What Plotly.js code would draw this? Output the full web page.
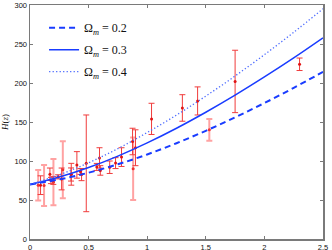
<!DOCTYPE html>
<html><head><meta charset="utf-8">
<script src="https://cdn.plot.ly/plotly-3.0.1.min.js"></script>
<style>html,body{margin:0;padding:0;background:#fff}#c{width:332px;height:250px}</style>
</head><body><div id="c"></div>
<script>
// model curves
const zModel = [0, 0.25, 0.5, 0.75, 1.0, 1.25, 1.5, 1.75, 2.0, 2.25, 2.5];
const H_om02 = [70, 76.4, 85.0, 95.8, 108.4, 122.8, 138.7, 155.9, 174.3, 193.8, 214.3];
const H_om03 = [70, 79.4, 91.6, 106.3, 123.2, 142.0, 162.5, 184.4, 207.7, 232.1, 257.8];
const H_om04 = [70, 82.3, 97.7, 115.9, 136.5, 158.9, 183.2, 209.0, 236.3, 265.0, 295.1];
const legendNames = ['Ω<sub><i>m</i></sub> = 0.2', 'Ω<sub><i>m</i></sub> = 0.3', 'Ω<sub><i>m</i></sub> = 0.4'];

// observational data, darker group
const zDark = [0.09, 0.17, 0.179, 0.199, 0.24, 0.27, 0.35, 0.352, 0.4, 0.43, 0.44, 0.48, 0.57, 0.593, 0.6, 0.68, 0.73, 0.781, 0.875, 0.9, 1.037, 1.3, 1.43, 1.75, 2.3];
const hDark = [69, 83, 75, 75, 79.7, 77, 82.7, 83, 95, 86.5, 82.6, 97, 92.4, 104, 87.9, 92, 97.3, 105, 125, 117, 154, 168, 177, 202, 224];
const eDark = [12, 8, 4, 5, 2.65, 14, 8.4, 14, 17, 3.7, 7.8, 62, 4.5, 13, 6.1, 8, 7, 12, 17, 23, 20, 17, 18, 40, 8];
// observational data, lighter group
const zLight = [0.07, 0.12, 0.2, 0.28, 0.88, 1.53];
const hLight = [69, 68.6, 72.9, 88.8, 90, 140];
const eLight = [19.6, 26.2, 29.6, 36.6, 40, 14];

const xTicks = [0, 0.5, 1, 1.5, 2, 2.5];
const xTickText = ['0', '0.5', '1', '1.5', '2', '2.5'];
const yTicks = [0, 50, 100, 150, 200, 250, 300];

const blue = 'rgb(25,60,255)';
const traces = [
  {x: zLight, y: hLight, type: 'scatter', mode: 'markers', showlegend: false,
   marker: {color: 'rgb(240,50,50)', size: 3},
   error_y: {type: 'data', array: eLight, visible: true, color: 'rgba(255,100,100,0.6)', thickness: 2, width: 3}},
  {x: zDark, y: hDark, type: 'scatter', mode: 'markers', showlegend: false,
   marker: {color: 'rgb(225,20,20)', size: 3},
   error_y: {type: 'data', array: eDark, visible: true, color: 'rgb(240,60,60)', thickness: 1, width: 3}},
  {x: zModel, y: H_om02, type: 'scatter', mode: 'lines', name: legendNames[0], legendgroup: 'a',
   line: {color: blue, width: 2, dash: '6px,4px', shape: 'spline'}},
  {x: zModel, y: H_om03, type: 'scatter', mode: 'lines', name: legendNames[1], legendgroup: 'b',
   line: {color: blue, width: 1.5, shape: 'spline'}},
  {x: zModel, y: H_om04, type: 'scatter', mode: 'lines', name: legendNames[2], legendgroup: 'c',
   line: {color: 'rgb(80,110,255)', width: 1.3, dash: '1.3px,2.2px', shape: 'spline'}}
];

const axCommon = {
  showgrid: false, zeroline: false, showline: true, mirror: 'ticks',
  linecolor: '#7a7a7a', linewidth: 1.5, ticks: 'inside', ticklen: 3,
  tickcolor: '#7a7a7a', tickwidth: 1,
  tickfont: {family: 'Liberation Sans, Arial, sans-serif', size: 7.5, color: '#111'}
};

const layout = {
  width: 332, height: 250,
  margin: {l: 30, r: 9, t: 5, b: 11, pad: 0},
  paper_bgcolor: '#fff', plot_bgcolor: '#fff',
  xaxis: Object.assign({}, axCommon, {range: [0, 2.5], tickvals: xTicks, ticktext: xTickText}),
  yaxis: Object.assign({}, axCommon, {range: [0, 300], tickvals: yTicks,
    title: {text: '<i>H</i>(<i>z</i>)', standoff: 4,
      font: {family: 'Liberation Serif, DejaVu Serif, serif', size: 9, color: '#111'}}}),
  legend: {x: 0.048, y: 0.965, xanchor: 'left', yanchor: 'top', bgcolor: 'rgba(0,0,0,0)',
    borderwidth: 0, tracegroupgap: 3, traceorder: 'grouped', itemwidth: 30,
    font: {family: 'Liberation Serif, DejaVu Serif, serif', size: 12, color: '#111'}},
  showlegend: true
};

Plotly.newPlot('c', traces, layout, {displayModeBar: false, staticPlot: true});
</script>
</body></html>
